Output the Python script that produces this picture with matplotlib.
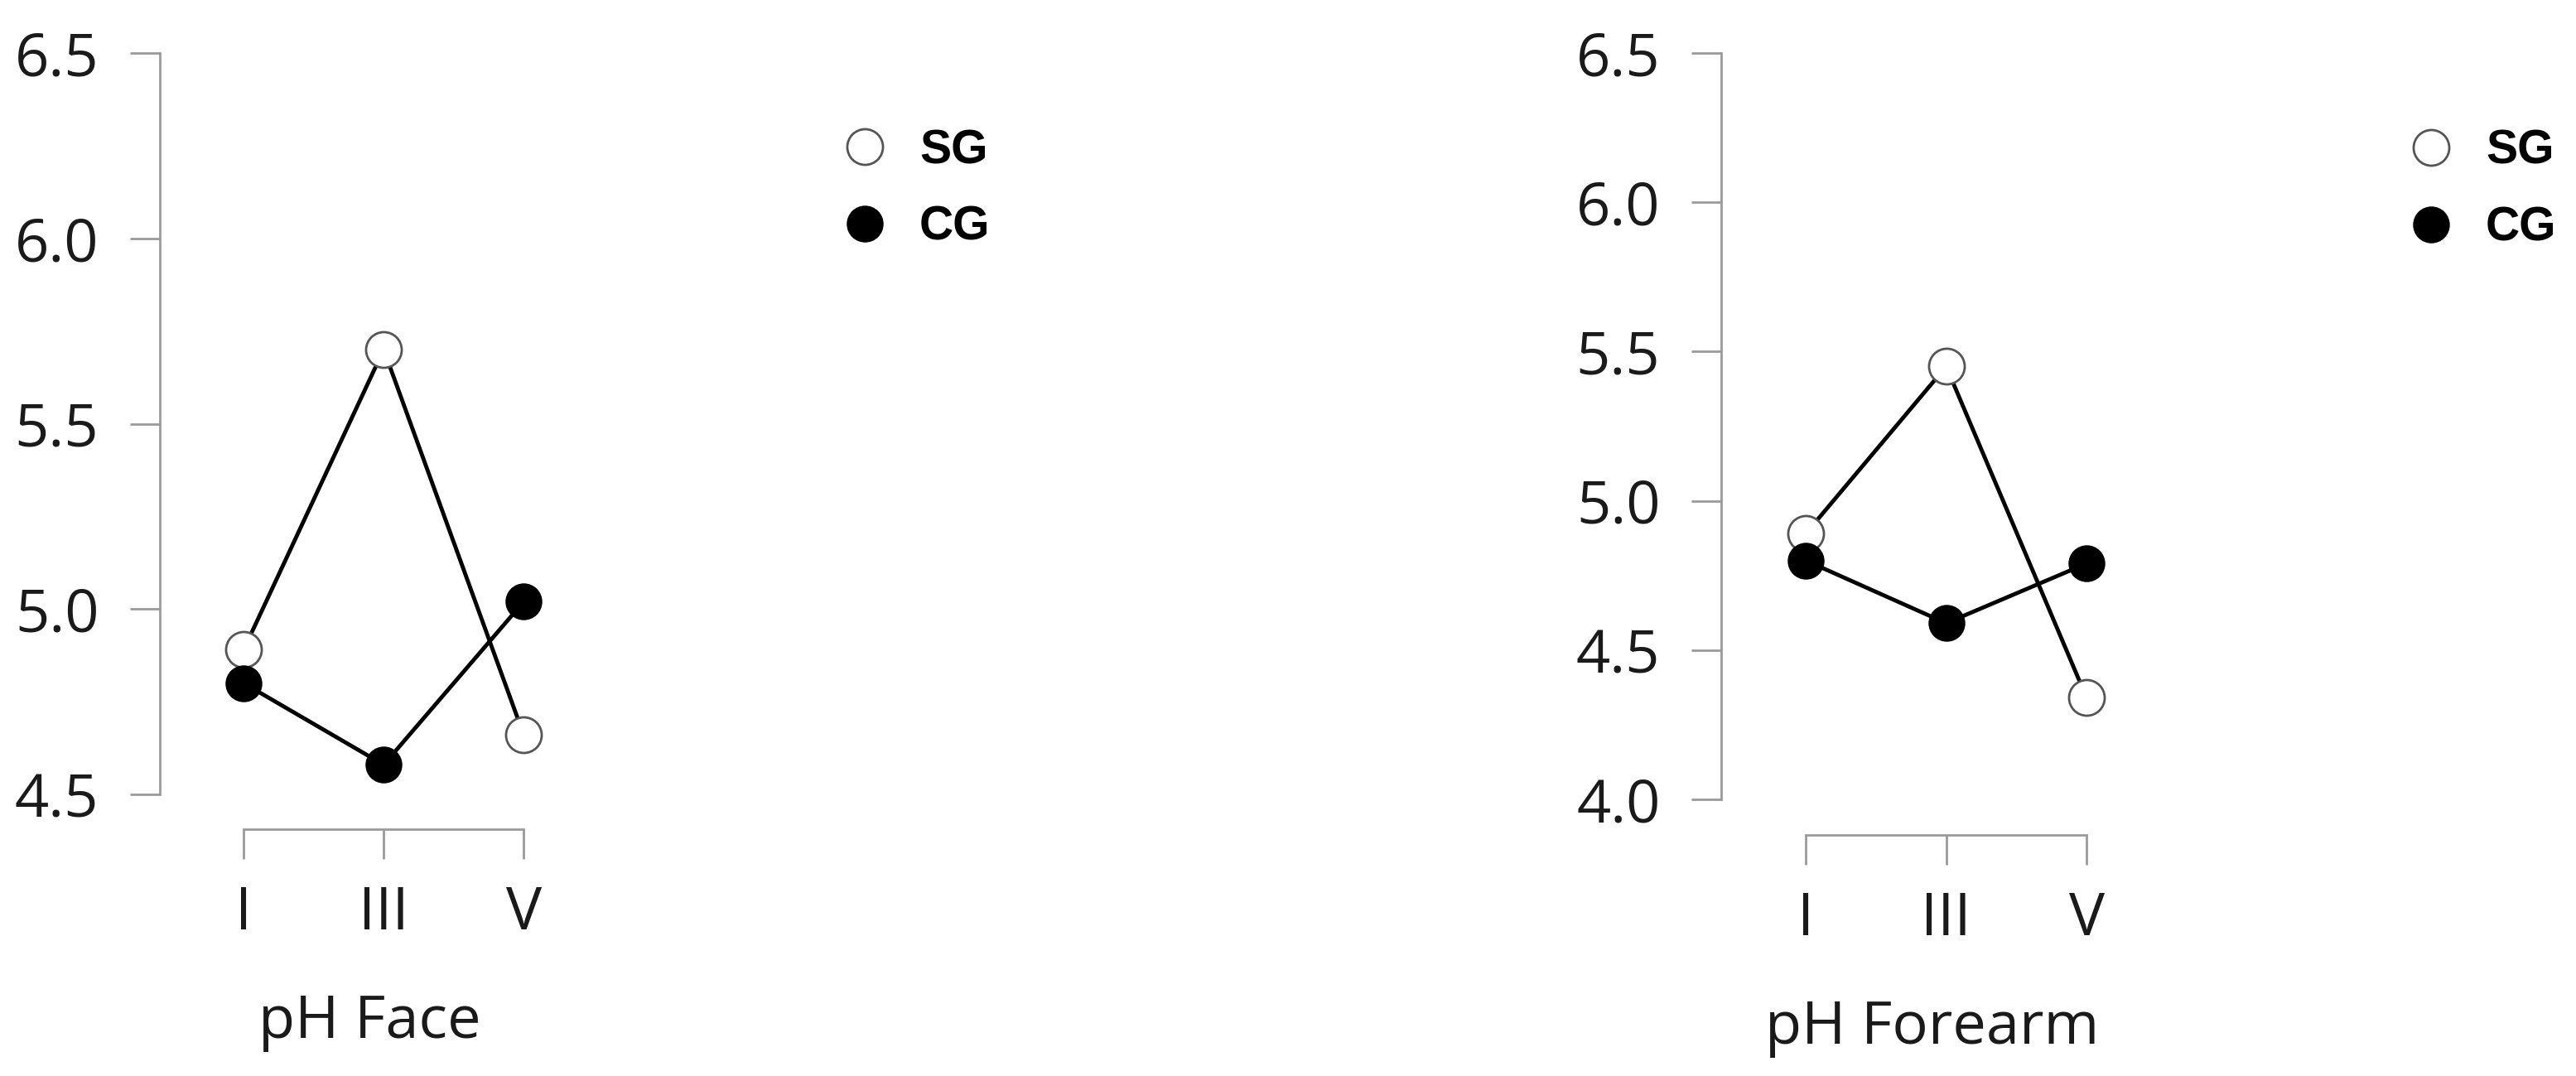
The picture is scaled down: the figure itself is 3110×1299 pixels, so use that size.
import matplotlib
matplotlib.use("Agg")
import matplotlib.pyplot as plt
from matplotlib.lines import Line2D

# data
visits = ["I", "III", "V"]
groups = ["SG", "CG"]
face_sg = [4.89, 5.70, 4.66]
face_cg = [4.80, 4.58, 5.02]
forearm_sg = [4.89, 5.45, 4.34]
forearm_cg = [4.80, 4.59, 4.79]

W, H = 3110, 1299
fig = plt.figure(figsize=(W / 100, H / 100), dpi=100)
plt.rcParams["font.family"] = ["Open Sans", "DejaVu Sans"]

grey = "#9a9a9a"
txt = "#1a1a1a"
ms = 31


def panel(rect, sg, cg, ylim, yticks, xlabel, xmin, bottom_off, leg_anchor):
    ax = fig.add_axes(rect)
    x = range(len(visits))
    ax.plot(x, sg, color="black", lw=3.5, marker="o", ms=ms, mfc="white",
            mec="#555555", mew=2, clip_on=False, zorder=3)
    ax.plot(x, cg, color="black", lw=3.5, marker="o", ms=ms, mfc="black",
            mec="black", clip_on=False, zorder=4)
    ax.set_xlim(xmin, 2.4)
    ax.set_ylim(*ylim)
    ax.set_yticks(yticks)
    ax.set_yticklabels([f"{v:.1f}" for v in yticks])
    ax.set_xticks(list(x))
    ax.set_xticklabels(visits)
    for s in ["top", "right"]:
        ax.spines[s].set_visible(False)
    ax.spines["left"].set_bounds(yticks[0], yticks[-1])
    ax.spines["bottom"].set_bounds(0, 2)
    ax.spines["bottom"].set_position(("outward", bottom_off))
    for s in ["left", "bottom"]:
        ax.spines[s].set_color(grey)
        ax.spines[s].set_linewidth(2)
    ax.tick_params(axis="both", length=26, width=2, color=grey,
                   labelsize=52, labelcolor=txt)
    ax.tick_params(axis="y", pad=27)
    ax.tick_params(axis="x", pad=22)
    ax.set_xlabel(xlabel, fontsize=52, color=txt, labelpad=43)
    ax.patch.set_visible(False)

    handles = [
        Line2D([], [], ls="none", marker="o", ms=ms, mfc="white", mec="#555555", mew=2),
        Line2D([], [], ls="none", marker="o", ms=ms, mfc="black", mec="black"),
    ]
    fig.legend(handles=handles, labels=groups, loc="upper left",
               bbox_to_anchor=leg_anchor, frameon=False, borderpad=0,
               borderaxespad=0,
               prop={"family": "Liberation Sans", "weight": "bold", "size": 41},
               handlelength=0.8, handletextpad=0.76, labelspacing=0.68)
    return ax


panel([193 / W, 1 - 959 / H, 507 / W, (959 - 64) / H],
      face_sg, face_cg, (4.5, 6.5), [4.5, 5.0, 5.5, 6.0, 6.5], "pH Face",
      -0.598, 30, (1021 / W, 1 - 155 / H))
panel([2078 / W, 1 - 965 / H, 509 / W, (965 - 64) / H],
      forearm_sg, forearm_cg, (4.0, 6.5), [4.0, 4.5, 5.0, 5.5, 6.0, 6.5],
      "pH Forearm", -0.602, 31, (2912 / W, 1 - 156 / H))

fig.savefig("out.png", dpi=100)
